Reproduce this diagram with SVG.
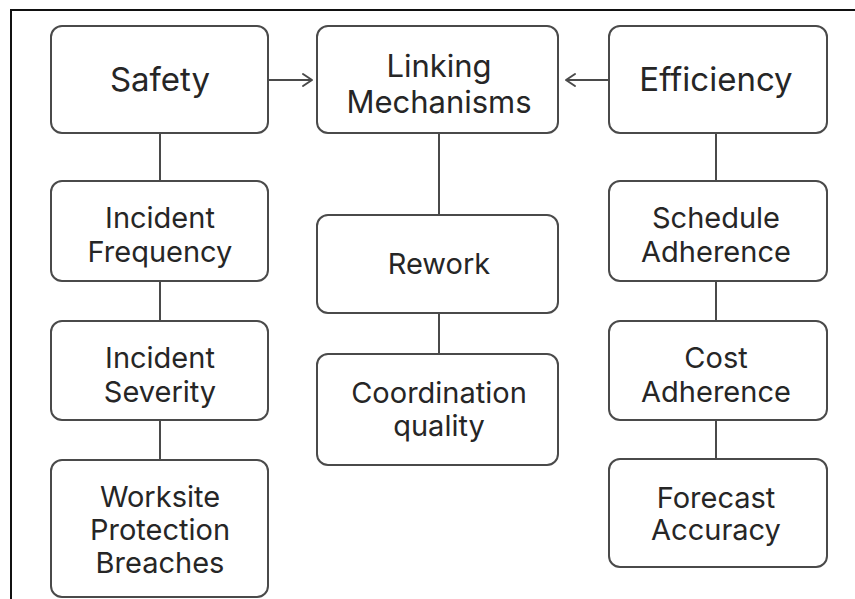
<svg xmlns="http://www.w3.org/2000/svg" width="855" height="599" viewBox="0 0 855 599">
  <style>
    .box { fill: #ffffff; stroke: #4a4a4a; stroke-width: 2; }
    .link { stroke: #4a4a4a; stroke-width: 2; fill: none; }
    .head { stroke: #4a4a4a; stroke-width: 2; fill: none; stroke-linecap: round; stroke-linejoin: round; }
    text { font-family: Inter, "Noto Sans", "Liberation Sans", sans-serif; fill: #262626; text-anchor: middle; }
    .title { font-size: 33px; }
    .title2 { font-size: 31px; }
    .label { font-size: 29px; }
  </style>

  <rect x="0" y="0" width="855" height="599" fill="#ffffff"/>
  <!-- outer frame -->
  <path d="M11 600 V10 H856" fill="none" stroke="#111111" stroke-width="2"/>

  <g id="connectors">
    <!-- Safety column -->
    <line class="link" x1="160" y1="133" x2="160" y2="181"/>
    <line class="link" x1="160" y1="281" x2="160" y2="321"/>
    <line class="link" x1="160" y1="420" x2="160" y2="460"/>
    <!-- Linking column -->
    <line class="link" x1="439" y1="133" x2="439" y2="215"/>
    <line class="link" x1="439" y1="313" x2="439" y2="354"/>
    <!-- Efficiency column -->
    <line class="link" x1="716" y1="133" x2="716" y2="181"/>
    <line class="link" x1="716" y1="281" x2="716" y2="321"/>
    <line class="link" x1="716" y1="420" x2="716" y2="459"/>
    <!-- arrows into Linking Mechanisms -->
    <line class="link" x1="268" y1="80" x2="312" y2="80"/>
    <polyline class="head" points="303,74 312,80 303,86"/>
    <line class="link" x1="609" y1="80" x2="566" y2="80"/>
    <polyline class="head" points="575,74 566,80 575,86"/>
  </g>

  <g id="safety">
    <rect class="box" x="51" y="26" width="217" height="107" rx="11"/>
    <text class="title" x="160" y="91">Safety</text>
  </g>
  <g id="linking-mechanisms">
    <rect class="box" x="317" y="26" width="241" height="107" rx="11"/>
    <text class="title2" x="439" y="77">Linking</text>
    <text class="title2" x="439" y="113">Mechanisms</text>
  </g>
  <g id="efficiency">
    <rect class="box" x="609" y="26" width="218" height="107" rx="11"/>
    <text class="title" x="716" y="91">Efficiency</text>
  </g>

  <g id="incident-frequency">
    <rect class="box" x="51" y="181" width="217" height="100" rx="11"/>
    <text class="label" x="160" y="228">Incident</text>
    <text class="label" x="160" y="262">Frequency</text>
  </g>
  <g id="incident-severity">
    <rect class="box" x="51" y="321" width="217" height="99" rx="11"/>
    <text class="label" x="160" y="368">Incident</text>
    <text class="label" x="160" y="402">Severity</text>
  </g>
  <g id="worksite-protection-breaches">
    <rect class="box" x="51" y="460" width="217" height="137" rx="11"/>
    <text class="label" x="160" y="507">Worksite</text>
    <text class="label" x="160" y="540">Protection</text>
    <text class="label" x="160" y="573">Breaches</text>
  </g>

  <g id="rework">
    <rect class="box" x="317" y="215" width="241" height="98" rx="11"/>
    <text class="label" x="439" y="274">Rework</text>
  </g>
  <g id="coordination-quality">
    <rect class="box" x="317" y="354" width="241" height="111" rx="11"/>
    <text class="label" x="439" y="403">Coordination</text>
    <text class="label" x="439" y="436">quality</text>
  </g>

  <g id="schedule-adherence">
    <rect class="box" x="609" y="181" width="218" height="100" rx="11"/>
    <text class="label" x="716" y="228">Schedule</text>
    <text class="label" x="716" y="262">Adherence</text>
  </g>
  <g id="cost-adherence">
    <rect class="box" x="609" y="321" width="218" height="99" rx="11"/>
    <text class="label" x="716" y="368">Cost</text>
    <text class="label" x="716" y="402">Adherence</text>
  </g>
  <g id="forecast-accuracy">
    <rect class="box" x="609" y="459" width="218" height="108" rx="11"/>
    <text class="label" x="716" y="508">Forecast</text>
    <text class="label" x="716" y="540">Accuracy</text>
  </g>
</svg>
